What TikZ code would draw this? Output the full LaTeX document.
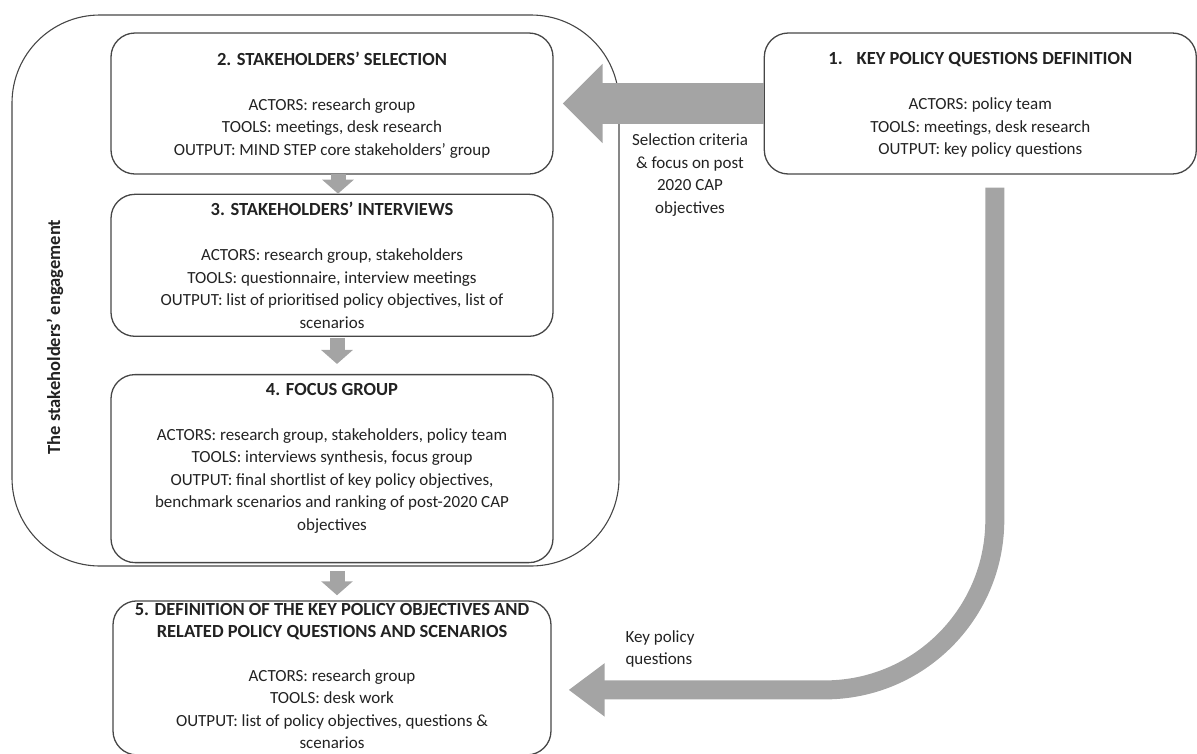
\documentclass[tikz,border=0pt]{standalone}
\usepackage{fontspec}
\setmainfont{Carlito}
\usepackage{xcolor}
\usetikzlibrary{positioning}
\usetikzlibrary{arrows.meta}

\definecolor{boxline}{HTML}{464646}
\definecolor{arrowgray}{HTML}{A4A4A4}
\definecolor{txt}{HTML}{222222}
\newcommand{\stitle}[1]{{\fontsize{18.5}{22.5}\selectfont\bfseries #1}}

\begin{document}
\begin{tikzpicture}[x=1pt,y=-1pt,
  stepbox/.style={draw=boxline,line width=1.3pt,rounded corners=24pt,align=center,
    text=txt,font=\fontsize{17}{22.5}\selectfont,minimum width=442pt,inner sep=0pt},
  lbl/.style={text=txt,font=\fontsize{17}{22.5}\selectfont,align=center,inner sep=0pt},
  flow/.style={draw=arrowgray,line width=15pt,-{Triangle[width=31pt,length=14pt]}},
  bigflow/.style={draw=arrowgray,line width=41pt,-{Triangle[width=77pt,length=40pt]}}]
  \useasboundingbox (0,0) rectangle (1197,753);
  \node[draw=boxline,line width=1.1pt,rounded corners=88pt,minimum width=607pt,
    minimum height=551pt,inner sep=0pt] (eng) at (315.5,290.5) {};
  \node[lbl,rotate=90] (englbl) at (55,337) {\stitle{The stakeholders’ engagement}};
  \node[stepbox] (s2) [minimum height=141pt,text depth=0pt] at (332,103.5) {\stitle{2. STAKEHOLDERS’ SELECTION}\\[22.5pt]
    ACTORS: research group\\ TOOLS: meetings, desk research\\ OUTPUT: MIND STEP core stakeholders’ group};
  \node[stepbox] (s1) [right=210pt of s2,minimum width=432pt,minimum height=141pt,text depth=0pt] {\stitle{1.\hspace{14pt}KEY POLICY QUESTIONS DEFINITION}\\[22.5pt]
    ACTORS: policy team\\ TOOLS: meetings, desk research\\ OUTPUT: key policy questions};
  \node[stepbox] (s3) [below=19pt of s2,minimum height=142pt] {\stitle{3. STAKEHOLDERS’ INTERVIEWS}\\[22.5pt]
    ACTORS: research group, stakeholders\\ TOOLS: questionnaire, interview meetings\\
    OUTPUT: list of prioritised policy objectives, list of\\ scenarios};
  \node[stepbox] (s4) [below=37pt of s3,minimum height=188pt,text depth=24pt] {\stitle{4. FOCUS GROUP}\\[22.5pt]
    ACTORS: research group, stakeholders, policy team\\ TOOLS: interviews synthesis, focus group\\
    OUTPUT: final shortlist of key policy objectives,\\ benchmark scenarios and ranking of post-2020 CAP\\ objectives};
  \node[stepbox] (s5) [below=37pt of s4,minimum width=438pt,minimum height=154pt,text depth=4pt] {\stitle{5. DEFINITION OF THE KEY POLICY OBJECTIVES AND}\\
    \stitle{RELATED POLICY QUESTIONS AND SCENARIOS}\\[21pt]
    ACTORS: research group\\ TOOLS: desk work\\ OUTPUT: list of policy objectives, questions \&\\ scenarios};
  \node[lbl] (crit) at (690,175) {Selection criteria\\ \& focus on post\\ 2020 CAP\\ objectives};
  \node[lbl,align=left] (keyq) at (660,649) {Key policy\\ questions};
  \draw[bigflow,shorten >=9pt] (s1.west) -- (s2.east);
  \draw[flow,shorten <=-1pt] ([xshift=6pt]s2.south) -- ([xshift=6pt]s3.north);
  \draw[flow,shorten <=1pt,shorten >=10pt] ([xshift=5pt]s3.south) -- ([xshift=5pt]s4.north);
  \draw[flow,shorten <=8pt,shorten >=5pt] ([xshift=5pt]s4.south) -- ([xshift=5pt]s5.north);
  \draw[draw=arrowgray,line width=19pt,-{Triangle[width=51pt,length=36pt]},rounded corners=170pt,
    shorten <=13pt,shorten >=17pt] ([xshift=14.5pt]s1.south) |- ([yshift=-12pt]s5.east);
\end{tikzpicture}
\end{document}
